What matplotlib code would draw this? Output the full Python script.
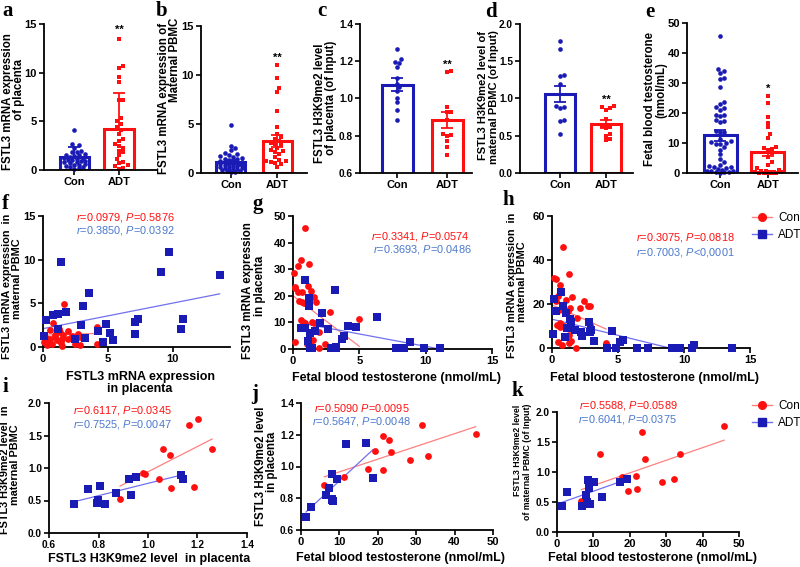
import numpy as np
import matplotlib
matplotlib.use('Agg')
import matplotlib.pyplot as plt
from matplotlib.lines import Line2D

plt.rcParams['font.family'] = ['Liberation Sans', 'DejaVu Sans']
plt.rcParams['mathtext.fontset'] = 'custom'
plt.rcParams['mathtext.it'] = 'Liberation Sans:italic'
plt.rcParams['mathtext.rm'] = 'Liberation Sans'

# ---------------- data: bar panels ----------------
groups = ['Con', 'ADT']

a_con = [4.1, 2.7, 2.6, 2.3, 2.0, 1.9, 1.8, 1.6, 1.5, 1.4, 1.3, 1.2, 1.1, 1.0, 1.0, 0.9, 0.8, 0.8,
         0.7, 0.6, 0.5, 0.5, 0.4, 0.3, 0.3, 0.2, 0.1, 1.5, 1.2, 0.9]
a_adt = [13.5, 10.7, 10.5, 9.6, 9.0, 7.2, 7.2, 5.3, 5.0, 4.7, 4.4, 4.1, 3.7, 3.2, 3.0, 2.7, 2.5, 2.3,
         2.0, 1.8, 1.5, 1.1, 0.8, 0.7, 0.5, 0.4, 0.2, 0.1]
a_mean = [1.3, 4.2]
a_err_lo = [0.0, 0.0]
a_err_hi = [1.1, 3.7]

b_con = [4.9, 2.8, 2.5, 2.3, 2.0, 1.9, 1.8, 1.7, 1.6, 1.5, 1.4, 1.4, 1.3, 1.2, 1.2, 1.1, 1.0, 1.0, 0.9,
         0.9, 0.8, 0.8, 0.7, 0.7, 0.6, 0.6, 0.5, 0.5, 0.4, 0.4, 0.3, 0.3, 0.2, 0.2, 0.1, 0.1, 1.1, 0.9]
b_adt = [11.0, 9.7, 8.7, 8.3, 6.3, 4.7, 4.0, 3.7, 3.5, 3.3, 3.1, 2.9, 2.6, 2.3, 2.2, 2.1, 1.9, 1.6,
         1.3, 1.2, 1.1, 1.0, 0.9, 0.6, 1.2, 3.0]
b_mean = [1.1, 3.3]
b_err_lo = [0.2, 0.6]
b_err_hi = [0.2, 0.6]

c_con = [1.265, 1.21, 1.195, 1.19, 1.17, 1.11, 1.08, 1.06, 1.04, 1.005, 0.98, 0.94, 0.885]
c_adt = [1.145, 1.143, 0.955, 0.93, 0.93, 0.885, 0.81, 0.805, 0.80, 0.77, 0.74, 0.695]
c_mean = [1.075, 0.885]
c_err_lo = [0.035, 0.042]
c_err_hi = [0.035, 0.042]

d_con = [1.77, 1.67, 1.31, 1.30, 1.20, 0.90, 0.88, 0.87, 0.71, 0.70, 0.52]
d_adt = [0.90, 0.88, 0.87, 0.85, 0.73, 0.63, 0.60, 0.52, 0.50, 0.45, 0.44, 0.62]
d_mean = [1.06, 0.66]
d_err_lo = [0.11, 0.05]
d_err_hi = [0.11, 0.05]

e_con = [45.6, 34.8, 33.9, 33.4, 31.8, 31.2, 28.6, 23.5, 22.9, 21.9, 21.5, 21.0, 19.4, 19.2, 18.9,
         17.5, 17.3, 17.1, 14.0, 13.7, 13.5, 11.2, 10.7, 10.3, 10.0, 9.8, 9.5, 8.6, 7.8, 6.2, 4.5,
         3.5, 2.5, 2.2, 1.9, 1.5, 1.2, 0.5, 0.3, 0.2, 0.1, 0.4, 0.6, 0.8, 2.0, 1.0]
e_adt = [25.8, 23.4, 18.5, 16.8, 15.2, 13.1, 11.8, 8.8, 8.4, 8.0, 7.6, 6.5, 5.3, 3.6, 2.5, 1.5, 0.9,
         0.6, 0.4, 0.3, 0.2, 0.2, 0.1, 0.1, 0.1, 0.0, 0.0, 0.5]
e_mean = [12.5, 6.9]
e_err_lo = [1.8, 1.1]
e_err_hi = [1.8, 1.1]

# ---------------- data: scatter panels ----------------
f_con_x = [1.58, 0.74, 0.56, 0.9, 0.23, 0.43, 0.3, 0.69, 1.07, 1.33, 1.53, 1.45, 1.38, 1.48, 1.89, 1.96,
           2.2, 2.55, 2.7, 2.86, 2.47, 2.86, 4.13, 4.13, 0.94, 1.2, 0.56, 0.1]
f_con_y = [4.94, 2.8, 1.9, 1.4, 1.03, 0.65, 0.2, 0.38, 0.77, 1.72, 1.4, 0.96, 0.5, 0.1, 1.8, 0.96,
           1.26, 1.03, 1.53, 1.15, 0.38, 0.2, 2.3, 0.34, 1.15, 2.1, 0.96, 0.57]
f_adt_x = [1.38, 9.69, 9.1, 13.6, 3.53, 3.1, 1.8, 1.15, 0.74, 0.26, 7.35, 10.77, 7.09, 4.85, 2.9, 1.12,
           10.6, 4.2, 5.15, 7.1, 5.4, 4.6, 3.2, 2.45, 0.08]
f_adt_y = [9.68, 10.9, 8.6, 8.23, 6.2, 4.7, 4.06, 3.75, 3.64, 3.1, 3.18, 3.18, 2.87, 2.68, 2.56, 2.03,
           2.1, 1.8, 1.6, 1.53, 0.84, 0.57, 1.03, 0.88, 1.26]

g_con_x = [0.93, 0.6, 1.18, 0.35, 0.05, 0.18, 1.1, 0.13, 0.4, 0.68, 1.36, 1.3, 1.56, 1.13, 0.48, 0.65,
           0.85, 1.7, 2.8, 0.6, 0.75, 0.93, 1.43, 1.6, 1.86, 1.98, 5.0, 0.18, 1.05, 1.3, 1.5, 2.4, 1.93]
g_con_y = [45.6, 33.4, 31.8, 31.3, 28.6, 23.0, 23.8, 23.3, 21.6, 21.5, 21.8, 19.4, 19.4, 19.0, 18.0,
           17.5, 17.2, 17.5, 13.8, 10.9, 10.3, 9.9, 10.0, 9.75, 9.75, 6.25, 11.2, 2.5, 1.9, 2.75, 3.4,
           1.75, 0.4]
g_adt_x = [0.93, 3.2, 1.18, 1.23, 2.2, 6.3, 4.77, 4.15, 0.63, 0.93, 2.06, 2.66, 1.63, 1.3, 3.82, 3.72,
           1.1, 1.3, 1.46, 2.86, 3.27, 3.27, 7.8, 8.8, 9.85, 11.05, 8.4]
g_adt_y = [25.9, 22.1, 19.0, 16.1, 13.4, 11.9, 8.1, 8.6, 7.75, 8.0, 9.6, 7.4, 6.75, 5.9, 5.0, 3.75,
           3.0, 0.25, 0.25, 0.25, 0.9, 0.25, 0.5, 2.75, 0.25, 0.25, 0.25]

h_con_x = [0.8, 1.26, 0.13, 0.33, 0.58, 0.43, 1.5, 0.3, 1.06, 2.4, 2.7, 2.85, 1.39, 1.21, 0.5, 2.14,
           1.89, 1.39, 0.58, 0.38, 0.88, 0.63, 2.85, 1.31, 0.43, 0.78, 1.31, 1.46, 1.81, 4.1, 4.1]
h_con_y = [45.7, 33.5, 32.0, 31.2, 28.7, 23.8, 23.1, 21.4, 21.7, 21.4, 19.3, 19.2, 18.1, 16.9, 17.3,
           18.1, 13.6, 11.3, 11.3, 10.6, 9.8, 9.4, 10.3, 6.0, 2.6, 1.2, 2.3, 3.0, 0.2, 2.3, 1.2]
h_adt_x = [0.68, 0.13, 0.33, 0.8, 1.08, 1.34, 1.44, 2.77, 2.97, 2.85, 2.19, 1.71, 1.01, 0.08, 1.13, 2.27,
           3.15, 4.53, 5.37, 5.16, 4.16, 4.86, 6.47, 7.3, 9.07, 9.7, 10.58, 10.78, 13.6]
h_adt_y = [25.6, 22.2, 16.9, 18.9, 15.8, 13.1, 11.6, 11.8, 8.3, 7.5, 7.5, 8.3, 4.8, 6.3, 9.0, 5.3,
           3.0, 7.8, 3.8, 2.6, 0.2, 0.2, 0.2, 0.2, 0.2, 0.2, 0.2, 1.2, 0.2]

i_con_x = [1.167, 1.203, 1.259, 1.059, 1.089, 0.943, 0.98, 0.987, 1.045, 1.092, 1.187, 0.887]
i_con_y = [1.658, 1.76, 1.29, 1.30, 1.20, 0.88, 0.93, 0.91, 0.83, 0.70, 0.71, 0.52]
i_adt_x = [0.699, 0.756, 0.792, 0.797, 0.808, 0.828, 0.869, 0.924, 0.932, 0.952, 1.135, 1.14]
i_adt_y = [0.444, 0.673, 0.469, 0.505, 0.73, 0.449, 0.612, 0.832, 0.577, 0.867, 0.893, 0.837]

j_con_x = [6.1, 11.1, 19.2, 21.4, 22.8, 23.5, 17.4, 21.4, 28.5, 31.6, 33.2, 45.5]
j_con_y = [0.884, 0.937, 1.095, 1.19, 1.168, 1.09, 0.985, 0.979, 1.042, 1.263, 1.063, 1.204]
j_adt_x = [1.3, 2.7, 6.5, 7.3, 8.0, 8.0, 8.3, 9.3, 11.8, 16.8, 18.7, 8.2]
j_adt_y = [0.684, 0.743, 0.821, 0.863, 0.796, 0.952, 0.783, 0.92, 1.141, 1.145, 0.926, 0.79]

k_con_x = [6.7, 11.7, 17.9, 19.6, 21.8, 21.9, 23.4, 24.1, 28.9, 32.1, 33.7, 45.9]
k_con_y = [0.52, 1.30, 0.91, 0.69, 0.94, 0.71, 1.67, 1.21, 0.84, 0.88, 1.30, 1.76]
k_adt_x = [1.4, 2.7, 7.0, 7.9, 8.2, 8.6, 8.8, 9.0, 10.1, 12.3, 17.2, 19.2]
k_adt_y = [0.44, 0.67, 0.44, 0.61, 0.50, 0.86, 0.73, 0.47, 0.83, 0.58, 0.84, 0.89]

# regression lines: (slope, intercept)
fit_f = {'con': (0.05, 1.35), 'adt': (0.293, 2.1)}
fit_g = {'con': (-3.8, 20.0), 'adt': (-0.93, 10.3)}
fit_h = {'con': (-2.68, 19.6), 'adt': (-1.47, 13.1)}
fit_i = {'con': (1.946, -1.004), 'adt': (0.949, -0.185)}
fit_j = {'con': (0.00802, 0.886), 'adt': (0.02253, 0.684)}
fit_k = {'con': (0.02102, 0.565), 'adt': (0.02146, 0.465)}

stats_f = ['=0.0979, ', '=0.5876', '=0.3850, ', '=0.0392']
stats_g = ['=0.3341, ', '=0.0574', '=0.3693, ', '=0.0486']
stats_h = ['=0.3075, ', '=0.0818', '=0.7003, ', '<0,0001']
stats_i = ['=0.6117, ', '=0.0345', '=0.7525, ', '=0.0047']
stats_j = ['=0.5090 ', '=0.0095', '=0.5647, ', '=0.0048']
stats_k = ['=0.5588, ', '=0.0589', '=0.6041, ', '=0.0375']

# ---------------- styling ----------------
W, H = 800, 567
fig = plt.figure(figsize=(8, 5.67), dpi=100)

BLUE = '#1a1ab4'
RED = '#ff1010'
LRED = '#ff8080'
LBLUE = '#7070f0'
TBLUE = '#4a78cc'
TICKFS = 8
DECFS = 7.3
LABFS = 8.3
STATFS = 7.9


def ax_px(x0, y0, x1, y1):
    return fig.add_axes([x0 / W, 1 - y1 / H, (x1 - x0) / W, (y1 - y0) / H])


def style(ax, yfs=TICKFS, xfs=TICKFS):
    for s in ['top', 'right']:
        ax.spines[s].set_visible(False)
    for s in ['left', 'bottom']:
        ax.spines[s].set_linewidth(1.3)
    ax.tick_params(direction='out', length=3.5, width=1.2, pad=1.5)
    ax.tick_params(axis='y', labelsize=yfs)
    ax.tick_params(axis='x', labelsize=xfs)
    for lab in ax.get_xticklabels() + ax.get_yticklabels():
        lab.set_fontweight('bold')


def ftext(x, y, s, fs=LABFS, rot=0, **kw):
    fig.text(x / W, 1 - y / H, s, fontsize=fs, rotation=rot, ha='center', va='center',
             fontweight='bold', **kw)


def swarm(values, ppu_y, ppu_x, d_px, max_half_px):
    vals = np.asarray(values, dtype=float)
    ypx = vals * ppu_y
    order = np.argsort(vals)
    cands = [0.0]
    for k in range(1, 30):
        cands += [k * d_px * 0.5, -k * d_px * 0.5]
    cands = [c for c in cands if abs(c) <= max_half_px]
    placed = []
    offs = np.zeros(len(vals))
    for i in order:
        best, bestd, best_fallback = None, -1, 0.0
        for c in cands:
            md = min([np.hypot(c - px, ypx[i] - py) for px, py in placed] + [1e9])
            if md >= d_px:
                best = c
                break
            if md > bestd:
                bestd, best_fallback = md, c
        if best is None:
            best = best_fallback
        placed.append((best, ypx[i]))
        offs[i] = best / ppu_x
    return offs


def bar_panel(box, con, adt, means, elo, ehi, ylim, yticks, xlim, width, star, star_y, yfs=TICKFS):
    ax = ax_px(*box)
    ax.set_xlim(*xlim)
    ax.set_ylim(*ylim)
    ax_w = box[2] - box[0]
    ax_h = box[3] - box[1]
    ppu_x = ax_w / (xlim[1] - xlim[0])
    ppu_y = ax_h / (ylim[1] - ylim[0])
    for i, (vals, col, mk, sz) in enumerate([(con, BLUE, 'o', 11), (adt, RED, 's', 11)]):
        ax.bar(i, means[i], width=width, facecolor='white', edgecolor=col, linewidth=2.2, zorder=1)
        offs = swarm(np.asarray(vals) - ylim[0], ppu_y, ppu_x, 4.3, width * ppu_x / 2 - 3)
        ax.scatter(i + offs, vals, marker=mk, s=sz, color=col, linewidths=0, zorder=2, clip_on=False)
        ax.errorbar(i, means[i], yerr=[[elo[i]], [ehi[i]]], color=col, capsize=4,
                    elinewidth=1.3, capthick=1.3, zorder=3)
    ax.set_xticks([0, 1])
    ax.set_xticklabels(groups)
    ax.set_yticks(yticks)
    style(ax, yfs=yfs)
    ax.text(1, star_y, star, ha='center', va='center', fontsize=8, fontweight='bold')
    return ax


def scatter_panel(box, cx, cy, ax_, ay, fits, xlim, ylim, xticks, yticks, stats, tpos, ytl=None,
                  yfs=TICKFS, xfs=TICKFS):
    ax = ax_px(*box)
    ax.set_xlim(*xlim)
    ax.set_ylim(*ylim)
    ax.scatter(cx, cy, marker='o', s=24, color=RED, linewidths=0, zorder=3, clip_on=False)
    ax.scatter(ax_, ay, marker='s', s=26, color=BLUE, linewidths=0, zorder=3, clip_on=False)
    for key, xs, col in [('con', cx, LRED), ('adt', ax_, LBLUE)]:
        m, b = fits[key]
        xx = np.array([min(xs), max(xs)])
        ax.plot(xx, m * xx + b, color=col, lw=0.9, zorder=2)
    ax.set_xticks(xticks)
    ax.set_yticks(yticks)
    if ytl is not None:
        ax.set_yticklabels(ytl)
    style(ax, yfs=yfs, xfs=xfs)
    (rx, ry), (bx, by) = tpos
    fig.text(rx / W, 1 - (ry - 0.5) / H, r'$\mathit{r}$' + stats[0] + r'$\mathit{P}$' + stats[1],
             color=RED, fontsize=STATFS, ha='left', va='center')
    fig.text(bx / W, 1 - (by + 0.5) / H, r'$\mathit{r}$' + stats[2] + r'$\mathit{P}$' + stats[3],
             color=TBLUE, fontsize=STATFS, ha='left', va='center')
    return ax


# ---------------- top row ----------------
bar_panel((44, 24, 157, 170), a_con, a_adt, a_mean, a_err_lo, a_err_hi, (0, 15), [0, 5, 10, 15],
          (-0.68, 1.85), 0.66, '**', 14.4)
bar_panel((201, 26, 307, 173), b_con, b_adt, b_mean, b_err_lo, b_err_hi, (0, 15), [0, 5, 10, 15],
          (-0.65, 1.65), 0.63, '**', 11.8)
bar_panel((360, 24, 472, 173), c_con, c_adt, c_mean, c_err_lo, c_err_hi, (0.6, 1.4),
          [0.6, 0.8, 1.0, 1.2, 1.4], (-0.74, 1.5), 0.62, '**', 1.18, yfs=DECFS)
axd = bar_panel((520, 24, 633, 173), d_con, d_adt, d_mean, d_err_lo, d_err_hi, (0, 2.0),
                [0.0, 0.5, 1.0, 1.5, 2.0], (-0.87, 1.59), 0.67, '**', 0.98, yfs=DECFS)
axd.set_yticklabels(['0.0', '0.5', '1.0', '1.5', '2.0'], fontweight='bold')
bar_panel((687, 23, 798, 173), e_con, e_adt, e_mean, e_err_lo, e_err_hi, (0, 50),
          [0, 10, 20, 30, 40, 50], (-0.69, 1.63), 0.69, '*', 28.0)

# ---------------- middle row ----------------
scatter_panel((43, 216, 230, 347), f_con_x, f_con_y, f_adt_x, f_adt_y, fit_f, (0, 14.4), (0, 15),
              [0, 5, 10], [0, 5, 10, 15], stats_f, ((76, 218), (76, 230)))
scatter_panel((293, 216, 492, 349), g_con_x, g_con_y, g_adt_x, g_adt_y, fit_g, (0, 15), (0, 50),
              [0, 5, 10, 15], [0, 10, 20, 30, 40, 50], stats_g, ((371, 237), (373, 249)))
scatter_panel((552, 216, 750, 348), h_con_x, h_con_y, h_adt_x, h_adt_y, fit_h, (0, 15), (0, 60),
              [0, 5, 10, 15], [0, 20, 40, 60], stats_h, ((636, 238), (636, 252)))

# ---------------- bottom row ----------------
scatter_panel((49, 403, 247, 533), i_con_x, i_con_y, i_adt_x, i_adt_y, fit_i, (0.6, 1.4), (0, 2.0),
              [0.6, 0.8, 1.0, 1.2, 1.4], [0, 0.5, 1.0, 1.5, 2.0], stats_i, ((73, 411), (73, 424)),
              ytl=['0.0', '0.5', '1.0', '1.5', '2.0'], yfs=DECFS, xfs=DECFS)
scatter_panel((301, 403, 493, 530), j_con_x, j_con_y, j_adt_x, j_adt_y, fit_j, (0, 50), (0.6, 1.4),
              [0, 10, 20, 30, 40, 50], [0.6, 0.8, 1.0, 1.2, 1.4], stats_j, ((314, 408), (312, 421)),
              yfs=DECFS)
scatter_panel((557, 412, 739, 532), k_con_x, k_con_y, k_adt_x, k_adt_y, fit_k, (0, 50), (0, 2.0),
              [0, 10, 20, 30, 40, 50], [0, 0.5, 1.0, 1.5, 2.0], stats_k, ((579, 406), (578, 419)),
              ytl=['0.0', '0.5', '1.0', '1.5', '2.0'], yfs=DECFS)

# ---------------- axis titles ----------------
ylabels = [
    (8, 102, 'FSTL3 mRNA expression', LABFS), (19, 90, 'of placenta', LABFS),
    (164, 98, 'FSTL3 mRNA expression of', LABFS), (175, 60, 'Maternal PBMC', LABFS),
    (320, 103, 'FSTL3 H3K9me2 level', LABFS), (331, 98, 'of placenta (of Input)', LABFS),
    (483, 96, 'FSTL3 H3K9me2 level of', 8.0), (494, 97, 'maternal PBMC (of Input)', 8.0),
    (650, 99, 'Fetal blood testosterone', LABFS), (661, 90, '(nmol/mL)', LABFS),
    (7, 286, 'FSTL3 mRNA expression  in', 7.8), (17, 279, 'maternal PBMC', 7.8),
    (248, 291, 'FSTL3 mRNA expression', LABFS), (260, 286, 'in placenta', LABFS),
    (512, 285, 'FSTL3 mRNA expression  in', 7.8), (522, 282, 'maternal PBMC', 7.8),
    (5, 470, 'FSTL3 H3K9me2 level  in', 7.8), (15, 465, 'maternal PBMC', 7.8),
    (261, 466, 'FSTL3 H3K9me2 level', LABFS), (272, 462, 'in placenta', LABFS),
    (518, 450, 'FSTL3 H3K9me2 level', 6.3), (527, 462, 'of maternal PBMC (of Input)', 6.3),
]
for x, y, s, fs in ylabels:
    ftext(x, y, s, fs=fs, rot=90)

xlabels = [
    (141, 377, 'FSTL3 mRNA expression'), (140, 389, 'in placenta'),
    (396, 378, 'Fetal blood testosterone (nmol/mL)'),
    (654, 378, 'Fetal blood testosterone (nmol/mL)'),
    (149, 559, 'FSTL3 H3K9me2 level  in placenta'),
    (401, 558, 'Fetal blood testosterone (nmol/mL)'),
    (653, 558, 'Fetal blood testosterone (nmol/mL)'),
]
for x, y, s in xlabels:
    ftext(x, y, s, fs=9)

# ---------------- panel letters ----------------
letters = [('a', 8, 11), ('b', 162, 11), ('c', 322, 11), ('d', 491, 12), ('e', 650, 12),
           ('f', 5, 204), ('g', 258, 204), ('h', 508, 200), ('i', 5, 387), ('j', 255, 394),
           ('k', 517, 391)]
for s, x, y in letters:
    fig.text(x / W, 1 - y / H, s, fontsize=15, fontweight='bold', family='Liberation Serif',
             ha='center', va='center')

# ---------------- legends ----------------
handles = [Line2D([0], [0], color=LRED, lw=1, marker='o', markersize=5.5, markerfacecolor=RED,
                  markeredgecolor=RED),
           Line2D([0], [0], color=LBLUE, lw=1, marker='s', markersize=5.5, markerfacecolor=BLUE,
                  markeredgecolor=BLUE)]
for y in (212, 400):
    fig.legend(handles, groups, loc='upper left', bbox_to_anchor=(752 / W, 1 - y / H),
               frameon=False, fontsize=8.5, handlelength=1.7, handletextpad=0.5,
               labelspacing=0.45, borderaxespad=0, borderpad=0)

fig.savefig('out.png', dpi=100)
